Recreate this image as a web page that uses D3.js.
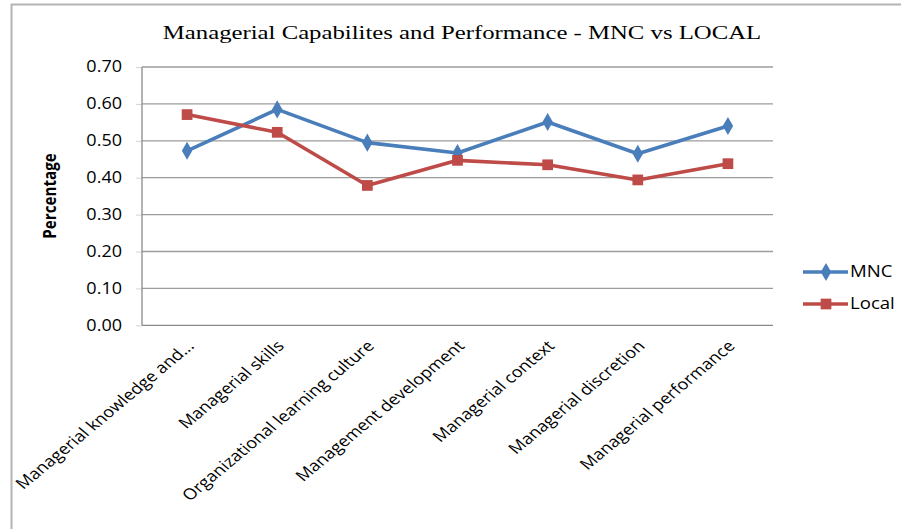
<!DOCTYPE html>
<html><head><meta charset="utf-8">
<script src="https://cdn.jsdelivr.net/npm/d3@7"></script>
<style>body{margin:0;background:#fff}svg{display:block}</style>
</head><body>
<script>
const categories = ["Managerial knowledge and...","Managerial skills","Organizational learning culture","Management development","Managerial context","Managerial discretion","Managerial performance"];
const mncValues = [0.473,0.585,0.495,0.467,0.551,0.465,0.540];
const localValues = [0.571,0.523,0.379,0.447,0.435,0.394,0.438];
const yTicks = [0,0.1,0.2,0.3,0.4,0.5,0.6,0.7];
const seriesNames = ["MNC","Local"];
const title = "Managerial Capabilites and Performance - MNC vs LOCAL";

const W=901,H=529;
const SX=1.2; // horizontal stretch seen in the reference
const svg=d3.select("body").append("svg").attr("width",W).attr("height",H);
svg.append("rect").attr("width",W).attr("height",H).attr("fill","#fff");
svg.append("path").attr("d","M11.5,"+H+" V4.5 H"+W).attr("fill","none").attr("stroke","#b4b4b4").attr("stroke-width",2);

const L=142,R=773,T=67,B=325.3;
const x=d3.scaleBand().domain(categories).range([L,R]);
const y=d3.scaleLinear().domain([0,0.7]).range([B,T]);
const cx=d=>x(d)+x.bandwidth()/2;
const sans="'Open Sans',sans-serif";

// small outside ticks
const ga=svg.append("g").attr("transform",`translate(${L},0)`).call(d3.axisLeft(y).tickValues(yTicks).tickFormat("").tickSize(6));
ga.select(".domain").remove();
ga.selectAll(".tick line").attr("stroke","#d4d4d4");
// tick labels
svg.append("g").selectAll("text").data(yTicks).join("text")
  .attr("transform",d=>`translate(122,${y(d)}) scale(1.17,1)`)
  .attr("text-anchor","end").attr("dy","0.35em")
  .attr("font-family",sans).attr("font-size",15.4).attr("fill","#000")
  .text(d3.format(".2f"));
// gridlines
svg.append("g").selectAll("line").data(yTicks.filter(d=>d>0)).join("line")
  .attr("x1",L).attr("x2",R).attr("y1",d=>y(d)).attr("y2",d=>y(d))
  .attr("stroke","#9c9c9c").attr("stroke-width",1.3);
svg.append("line").attr("x1",L).attr("x2",L).attr("y1",T).attr("y2",B).attr("stroke","#8a8a8a").attr("stroke-width",1.3);
svg.append("line").attr("x1",L).attr("x2",R).attr("y1",B).attr("y2",B).attr("stroke","#8a8a8a").attr("stroke-width",1.3);

// x labels
svg.append("g").selectAll("text").data(categories).join("text")
  .attr("transform",d=>`translate(${cx(d)+8},347) scale(${SX},1) rotate(-45)`)
  .attr("text-anchor","end")
  .attr("font-family",sans).attr("font-size",15.2).attr("fill","#000")
  .text(d=>d);

// y title
svg.append("text").attr("transform",`translate(56,196) scale(${SX},1) rotate(-90)`).attr("text-anchor","middle")
  .attr("font-family",sans).attr("font-weight","bold").attr("font-size",15.2).text("Percentage");

// title
svg.append("text").attr("transform",`translate(462,39) scale(1.27,1)`).attr("text-anchor","middle")
  .attr("font-family","'Liberation Serif',serif").attr("font-size",19.5).text(title);

const colors=["#4a7ebb","#be4b48"];
const data=[mncValues,localValues];
const line=d3.line().x((d,i)=>cx(categories[i])).y(d=>y(d));
data.forEach((vals,si)=>{
  svg.append("path").attr("d",line(vals)).attr("fill","none").attr("stroke",colors[si]).attr("stroke-width",3.6).attr("stroke-linejoin","round");
  const sym=si===0?d3.symbolDiamond:d3.symbolSquare;
  svg.append("g").selectAll("path").data(vals).join("path")
    .attr("transform",(d,i)=>`translate(${cx(categories[i])},${y(d)})`)
    .attr("d",d3.symbol().type(sym).size(si===0?95:115)).attr("fill",colors[si]);
});

// legend
const legY=[272,304];
seriesNames.forEach((n,i)=>{
  const g=svg.append("g");
  g.append("line").attr("x1",803).attr("x2",848).attr("y1",legY[i]).attr("y2",legY[i]).attr("stroke",colors[i]).attr("stroke-width",3.6);
  g.append("path").attr("transform",`translate(826,${legY[i]})`).attr("d",d3.symbol().type(i===0?d3.symbolDiamond:d3.symbolSquare).size(i===0?95:115)).attr("fill",colors[i]);
  g.append("text").attr("transform",`translate(850,${legY[i]}) scale(${SX},1)`).attr("dy","0.35em").attr("font-family",sans).attr("font-size",15.5).text(n);
});
</script>
</body></html>
